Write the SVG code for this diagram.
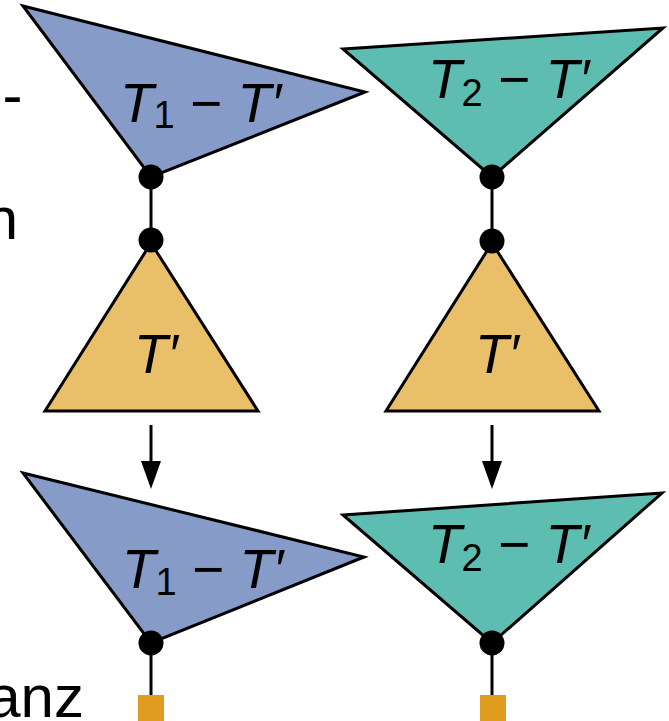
<svg xmlns="http://www.w3.org/2000/svg" width="669" height="721" viewBox="0 0 669 721">
<style>
.tri{stroke:#000;stroke-width:3;stroke-linejoin:miter}
.blue{fill:#869BC8}
.teal{fill:#5CBDB0}
.orange{fill:#EABF6A}
.dot{fill:#000}
.edge{stroke:#000;stroke-width:3;fill:none}
.lbl{font-family:"Liberation Sans",Arial,sans-serif;font-style:italic;font-size:55px;fill:#000}
.sub{font-size:38px;font-style:normal}
.op{font-style:normal}
.frag{font-family:"Liberation Sans",Arial,sans-serif;font-size:60px;fill:#000}
.sq{fill:#E09C1E}
</style>
<rect width="669" height="721" fill="#fff"/>
<g id="text-fragments">
<text class="frag" x="2.6" y="115">-</text>
<text class="frag" x="18" y="239" text-anchor="end">n</text>
<text class="frag" x="84" y="717" text-anchor="end">anz</text>
</g>
<g id="connectors">
<line class="edge" x1="151" y1="177" x2="151" y2="240"/>
<line class="edge" x1="492" y1="177" x2="492" y2="241"/>
<line class="edge" x1="151" y1="425" x2="151" y2="461"/>
<path d="M141,461 L161,461 L151,489 Z" fill="#000"/>
<line class="edge" x1="492" y1="425" x2="492" y2="461"/>
<path d="M482,461 L502,461 L492,489 Z" fill="#000"/>
<line class="edge" x1="151" y1="643" x2="151" y2="697"/>
<line class="edge" x1="492" y1="643" x2="492" y2="697"/>
</g>
<g id="node-t1-top">
<polygon class="tri blue" points="23,6 365,92 151,177"/>
<text class="lbl" x="120" y="122">T<tspan class="sub" dy="6">1</tspan><tspan class="op" dy="-6"> − </tspan>T′</text>
</g>
<g id="node-t2-top">
<polygon class="tri teal" points="343,49 663,28 492,177"/>
<text class="lbl" x="428" y="98">T<tspan class="sub" dy="8">2</tspan><tspan class="op" dy="-8"> − </tspan>T′</text>
</g>
<g id="node-tp-left">
<polygon class="tri orange" points="151,243 258,411 45,411"/>
<text class="lbl" x="134" y="373">T′</text>
</g>
<g id="node-tp-right">
<polygon class="tri orange" points="492,243 599,411 386,411"/>
<text class="lbl" x="475" y="373">T′</text>
</g>
<g id="node-t1-bottom">
<polygon class="tri blue" points="23,473 364,557 151,643"/>
<text class="lbl" x="122" y="588">T<tspan class="sub" dy="7">1</tspan><tspan class="op" dy="-7"> − </tspan>T′</text>
</g>
<g id="node-t2-bottom">
<polygon class="tri teal" points="343,515 662,493 492,643"/>
<text class="lbl" x="428" y="563">T<tspan class="sub" dy="8">2</tspan><tspan class="op" dy="-8"> − </tspan>T′</text>
</g>
<g id="dots">
<circle class="dot" cx="151" cy="177" r="12.5"/>
<circle class="dot" cx="151" cy="240" r="12.5"/>
<circle class="dot" cx="492" cy="177" r="12.5"/>
<circle class="dot" cx="492" cy="241" r="12.5"/>
<circle class="dot" cx="151" cy="643" r="12.5"/>
<circle class="dot" cx="492" cy="643" r="12.5"/>
</g>
<g id="leaves">
<rect class="sq" x="138" y="695" width="26" height="26"/>
<rect class="sq" x="480" y="695" width="26" height="26"/>
</g>
</svg>
